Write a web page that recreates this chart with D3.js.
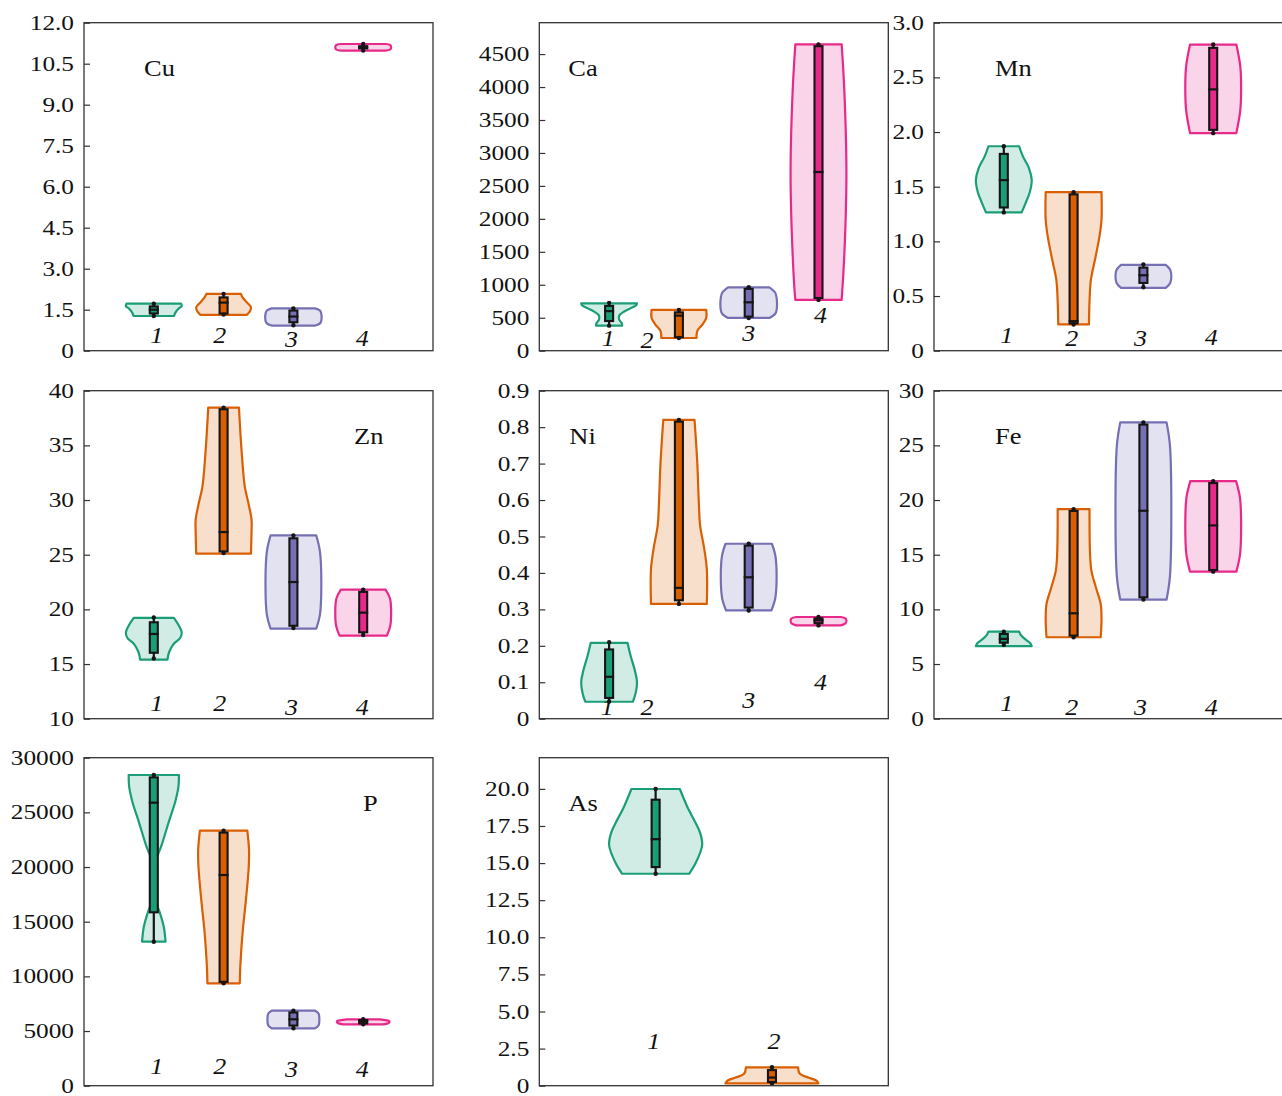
<!DOCTYPE html>
<html lang="en">
<head>
<meta charset="UTF-8">
<title>Violins</title>
<style>
  body { margin: 0; background: #fff; }
</style>
</head>
<body>
<div class="canvas"></div>
<script src="https://cdnjs.cloudflare.com/ajax/libs/d3/7.8.5/d3.min.js"></script>
<script>
// groups and colours
const groups = ["1", "2", "3", "4"];
const colors = ["#1b9e77", "#d95f02", "#7570b3", "#e7298a"];

// y domains and ticks
const cuDomain = [0, 12],    cuTicks = [0, 1.5, 3, 4.5, 6, 7.5, 9, 10.5, 12];
const caDomain = [0, 4976],  caTicks = [0, 500, 1000, 1500, 2000, 2500, 3000, 3500, 4000, 4500];
const mnDomain = [0, 3],     mnTicks = [0, 0.5, 1, 1.5, 2, 2.5, 3];
const znDomain = [10, 40],   znTicks = [10, 15, 20, 25, 30, 35, 40];
const niDomain = [0, 0.9],   niTicks = [0, 0.1, 0.2, 0.3, 0.4, 0.5, 0.6, 0.7, 0.8, 0.9];
const feDomain = [0, 30],    feTicks = [0, 5, 10, 15, 20, 25, 30];
const pDomain  = [0, 30000], pTicks  = [0, 5000, 10000, 15000, 20000, 25000, 30000];
const asDomain = [0, 22.1],  asTicks = [0, 2.5, 5, 7.5, 10, 12.5, 15, 17.5, 20];

// box stats per group: [min, q1, median, q3, max]
const cuBox = [[1.27, 1.36, 1.50, 1.62, 1.72], [1.32, 1.36, 1.76, 1.95, 2.08], [0.93, 1.04, 1.25, 1.47, 1.55], [10.98, 11.06, 11.1, 11.14, 11.22]];
const caBox = [[380, 450, 600, 680, 726], [193, 205, 532, 582, 618], [497, 517, 734, 938, 962], [771, 800, 2711, 4620, 4647]];
const mnBox = [[1.265, 1.31, 1.56, 1.80, 1.87], [0.24, 0.25, 0.27, 1.43, 1.45], [0.58, 0.62, 0.69, 0.76, 0.79], [1.99, 2.02, 2.39, 2.77, 2.80]];
const znBox = [[15.5, 16.03, 17.75, 18.82, 19.25], [25.15, 25.3, 27.07, 38.3, 38.45], [18.3, 18.5, 22.5, 26.5, 26.76], [17.65, 17.9, 19.7, 21.6, 21.8]];
const niBox = [[0.047, 0.057, 0.115, 0.19, 0.21], [0.315, 0.325, 0.359, 0.815, 0.82], [0.297, 0.305, 0.388, 0.475, 0.48], [0.256, 0.262, 0.27, 0.275, 0.279]];
const feBox = [[6.75, 6.95, 7.3, 7.75, 7.95], [7.45, 7.6, 9.64, 19.0, 19.17], [10.9, 11.1, 19.02, 26.9, 27.1], [13.45, 13.6, 17.68, 21.55, 21.73]];
const pBox  = [[13171, 15860, 25886, 28200, 28418], [9366, 9500, 19270, 23150, 23325], [5250, 5500, 6073, 6700, 6860], [5616, 5700, 5900, 6000, 6073]];
const asBox = [[14.28, 14.73, 16.61, 19.27, 19.99], [0.16, 0.25, 0.55, 1.05, 1.24]];

// violin outlines: [value, relative half-width]
const cuShape = [
  [[1.27, 0.72], [1.40, 0.78], [1.55, 0.9], [1.63, 1], [1.72, 0.98]],
  [[1.31, 0.83], [1.45, 0.95], [1.59, 0.98], [1.75, 0.85], [1.95, 0.68], [2.08, 0.62]],
  [[0.92, 0.78], [1.0, 0.95], [1.1, 1], [1.35, 1], [1.47, 0.95], [1.55, 0.78]],
  [[10.98, 0.8], [11.02, 0.97], [11.1, 1], [11.18, 0.97], [11.22, 0.8]]
];
const caShape = [
  [[380, 0.47], [420, 0.45], [470, 0.36], [530, 0.36], [590, 0.52], [650, 0.8], [690, 0.97], [719, 1]],
  [[193, 0.63], [300, 0.66], [400, 0.85], [500, 0.98], [618, 0.98]],
  [[497, 0.74], [560, 0.95], [620, 1], [800, 1], [880, 0.95], [962, 0.74]],
  [[771, 0.83], [1500, 0.93], [2700, 1], [3900, 0.93], [4647, 0.83]]
];
const mnShape = [
  [[1.265, 0.64], [1.35, 0.78], [1.45, 0.93], [1.56, 1], [1.67, 0.9], [1.78, 0.68], [1.87, 0.55]],
  [[0.24, 0.55], [0.45, 0.57], [0.65, 0.62], [0.85, 0.78], [1.05, 0.93], [1.2, 1], [1.45, 1]],
  [[0.575, 0.8], [0.62, 0.96], [0.68, 1], [0.74, 0.96], [0.785, 0.8]],
  [[1.99, 0.83], [2.2, 0.97], [2.4, 1], [2.6, 0.97], [2.80, 0.83]]
];
const znShape = [
  [[15.41, 0.49], [16.1, 0.55], [16.8, 0.7], [17.4, 0.95], [17.9, 1], [18.5, 0.9], [19.22, 0.72]],
  [[25.1, 0.98], [27, 1], [28.2, 1], [29.7, 0.89], [31.2, 0.76], [34.3, 0.65], [38.45, 0.55]],
  [[18.24, 0.82], [19.5, 0.95], [22.4, 1], [25.3, 0.95], [26.76, 0.82]],
  [[17.6, 0.85], [18.5, 0.97], [19.8, 1], [21, 0.96], [21.8, 0.8]]
];
const niShape = [
  [[0.0465, 0.85], [0.07, 0.95], [0.1, 1], [0.13, 0.93], [0.17, 0.78], [0.208, 0.66]],
  [[0.315, 1], [0.41, 1], [0.47, 0.9], [0.53, 0.76], [0.6, 0.71], [0.7, 0.66], [0.82, 0.56]],
  [[0.297, 0.81], [0.33, 0.95], [0.39, 1], [0.45, 0.95], [0.48, 0.83]],
  [[0.256, 0.8], [0.262, 0.97], [0.27, 1], [0.275, 0.97], [0.279, 0.8]]
];
const feShape = [
  [[6.63, 1], [6.9, 0.95], [7.3, 0.75], [7.7, 0.6], [7.97, 0.55]],
  [[7.45, 0.97], [9, 1], [10.5, 0.97], [12, 0.8], [13.5, 0.64], [15, 0.59], [19.17, 0.57]],
  [[10.9, 0.83], [13, 0.95], [19, 1], [25, 0.95], [27.1, 0.83]],
  [[13.45, 0.83], [15, 0.96], [17.6, 1], [20.2, 0.96], [21.73, 0.82]]
];
const pShape = [
  [[13171, 0.42], [14500, 0.36], [15800, 0.22], [17000, 0.06], [18500, 0.02], [20200, 0.03], [22000, 0.28], [24000, 0.52], [26000, 0.77], [27300, 0.88], [28418, 0.9]],
  [[9366, 0.58], [11000, 0.6], [14000, 0.68], [17000, 0.8], [20000, 0.9], [21600, 0.91], [23325, 0.85]],
  [[5250, 0.78], [5500, 0.9], [6050, 0.93], [6600, 0.9], [6860, 0.78]],
  [[5616, 0.7], [5750, 0.92], [5900, 0.94], [6000, 0.8], [6073, 0.6]]
];
const asShape = [
  [[14.28, 0.72], [15.0, 0.86], [16.2, 1], [17.0, 0.96], [17.7, 0.86], [18.8, 0.68], [19.99, 0.52]],
  [[0.16, 1], [0.35, 0.95], [0.55, 0.78], [0.8, 0.6], [1.24, 0.56]]
];

const oneDec = d => d === 0 ? "0" : d3.format(".1f")(d);
const intFmt = d3.format("d");

const panels = [
  { name: "Cu", domain: cuDomain, ticks: cuTicks, box: cuBox, shape: cuShape, fmt: oneDec },
  { name: "Ca", domain: caDomain, ticks: caTicks, box: caBox, shape: caShape, fmt: intFmt },
  { name: "Mn", domain: mnDomain, ticks: mnTicks, box: mnBox, shape: mnShape, fmt: oneDec },
  { name: "Zn", domain: znDomain, ticks: znTicks, box: znBox, shape: znShape, fmt: intFmt },
  { name: "Ni", domain: niDomain, ticks: niTicks, box: niBox, shape: niShape, fmt: oneDec },
  { name: "Fe", domain: feDomain, ticks: feTicks, box: feBox, shape: feShape, fmt: intFmt },
  { name: "P",  domain: pDomain,  ticks: pTicks,  box: pBox,  shape: pShape,  fmt: intFmt },
  { name: "As", domain: asDomain, ticks: asTicks, box: asBox, shape: asShape, fmt: oneDec }
];

// layout
const panelLeft = [84, 539.3, 934];
const panelTop = [22.7, 390.7, 757.7];
const panelW = 349, panelH = 328;
const nameX = [60, 29, 61, 270, 30, 61, 279, 29];
const nameY = 53.5;
// label lift above frame bottom (px) and x shift (px), per panel
const labLift = [[8, 8, 4, 5], [5, 3, 10, 28], [8, 5, 5, 6], [8, 8, 4, 4], [4, 4, 11, 29], [8, 4, 4, 4], [12, 12, 9, 9], [37, 37]];
const labShift = [[3, -4, -2, -1], [-1, -32, 0, 2], [3, -2, -3, -2], [3, -4, -2, -1], [-2, -32, 0, 2], [3, -2, -3, -2], [3, -4, -2, -1], [-2, 2]];

const serif = "'Liberation Serif', 'Times New Roman', serif";
const stretch = 1.15;
const ink = "#151515";

const svg = d3.select(".canvas").append("svg")
    .attr("width", 1282)
    .attr("height", 1096);

panels.forEach((p, i) => {
    const col = i % 3, row = Math.floor(i / 3);
    const g = svg.append("g")
        .attr("transform", `translate(${panelLeft[col]},${panelTop[row]})`);

    const n = p.box.length;
    const x = d3.scaleLinear().domain([0, n + 1]).range([0, panelW]);
    const y = d3.scaleLinear().domain(p.domain).range([panelH, 0]);
    const half = 0.4 * (x(1) - x(0));

    // violins
    p.shape.forEach((s, k) => {
        const cx = x(k + 1);
        const area = d3.area()
            .x0(d => cx - d[1] * half)
            .x1(d => cx + d[1] * half)
            .y(d => y(d[0]))
            .curve(d3.curveCatmullRom.alpha(0.5));
        g.append("path")
            .attr("d", area(s))
            .attr("fill", colors[k])
            .attr("fill-opacity", 0.2)
            .attr("stroke", colors[k])
            .attr("stroke-width", 2.2)
            .attr("stroke-linejoin", "round");
    });

    // inner boxes
    const inner = g.selectAll("g.inner")
        .data(p.box)
        .join("g")
            .attr("class", "inner");
    inner.append("line")
        .attr("x1", (d, k) => x(k + 1)).attr("x2", (d, k) => x(k + 1))
        .attr("y1", d => y(d[0])).attr("y2", d => y(d[4]))
        .attr("stroke", ink).attr("stroke-width", 2.2);
    inner.append("rect")
        .attr("x", (d, k) => x(k + 1) - 4)
        .attr("width", 8)
        .attr("y", d => y(d[3]))
        .attr("height", d => Math.max(0.5, y(d[1]) - y(d[3])))
        .attr("fill", (d, k) => colors[k])
        .attr("stroke", ink)
        .attr("stroke-width", 2.1);
    inner.append("line")
        .attr("x1", (d, k) => x(k + 1) - 5).attr("x2", (d, k) => x(k + 1) + 5)
        .attr("y1", d => y(d[2])).attr("y2", d => y(d[2]))
        .attr("stroke", ink).attr("stroke-width", 2.2);
    [0, 4].forEach(j => {
        inner.append("circle")
            .attr("cx", (d, k) => x(k + 1))
            .attr("cy", d => y(d[j]))
            .attr("r", 2.2)
            .attr("fill", ink);
    });

    // frame
    g.append("rect")
        .attr("width", panelW)
        .attr("height", panelH)
        .attr("fill", "none")
        .attr("stroke", "#333")
        .attr("stroke-width", 1.3);

    // y axis, ticks inward
    const axis = g.append("g")
        .call(d3.axisLeft(y)
            .tickValues(p.ticks)
            .tickSizeInner(-6)
            .tickSizeOuter(0)
            .tickPadding(8.7)
            .tickFormat(p.fmt));
    axis.select(".domain").remove();
    axis.selectAll(".tick line").attr("stroke", "#333").attr("stroke-width", 1.2);
    axis.selectAll(".tick text")
        .attr("font-family", serif)
        .attr("font-size", 22)
        .attr("fill", "#111")
        .attr("dy", "0.3em")
        .attr("transform", `scale(${stretch},1)`);

    // element name
    g.append("text")
        .attr("transform", `translate(${nameX[i]},${nameY}) scale(${stretch},1)`)
        .attr("font-family", serif)
        .attr("font-size", 23)
        .attr("fill", "#111")
        .text(p.name);

    // group labels
    g.selectAll("text.grp")
        .data(groups.slice(0, n))
        .join("text")
            .attr("class", "grp")
            .attr("transform", (d, k) => `translate(${x(k + 1) + labShift[i][k]},${panelH - labLift[i][k]}) scale(1.08,1)`)
            .attr("text-anchor", "middle")
            .attr("font-family", serif)
            .attr("font-style", "italic")
            .attr("font-size", 24)
            .attr("fill", "#111")
            .text(d => d);
});
</script>
</body>
</html>
